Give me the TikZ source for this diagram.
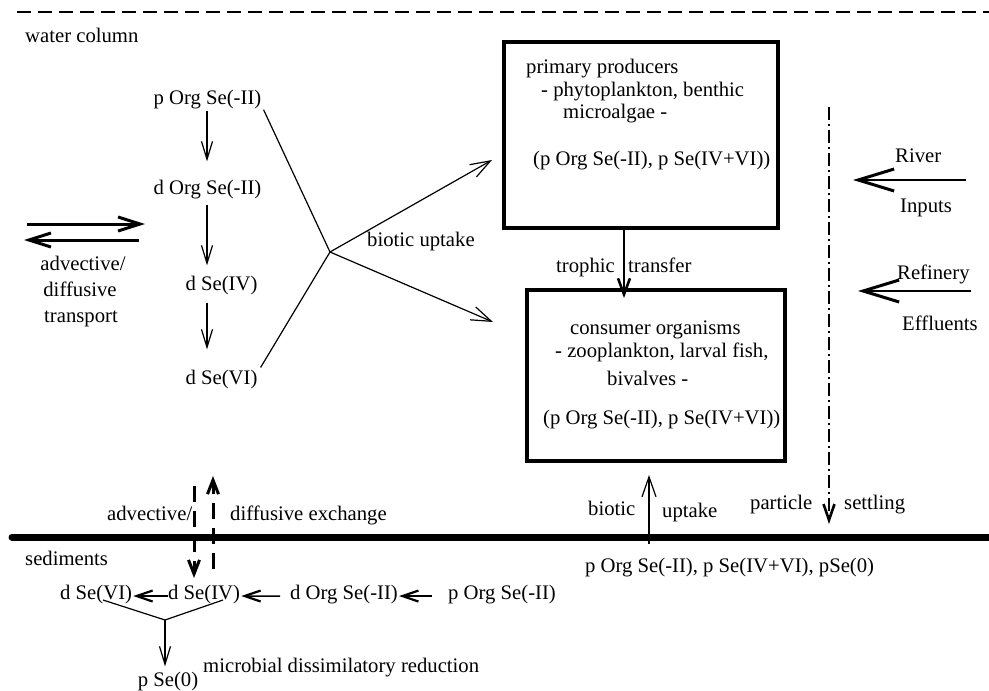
\documentclass[tikz,border=0pt]{standalone}
\usepackage{fontspec}
\setmainfont{Liberation Serif}
\usetikzlibrary{arrows.meta,calc}
\begin{document}
\begin{tikzpicture}[x=1pt,y=-1pt,
  txt/.style={inner sep=0pt, anchor=base west, font=\fontsize{20.7}{24}\selectfont},
  ctxt/.style={txt, anchor=base},
  thinarr/.style={line width=1.2pt, -{Straight Barb[length=18pt,width=11pt]}},
  uparr/.style={line width=1.2pt, -{Straight Barb[length=20pt,width=14pt]}},
  bigarr/.style={line width=2.5pt, -{Straight Barb[length=36pt,width=22pt,line width=3pt]}},
  transarr/.style={line width=3pt, -{Straight Barb[length=22pt,width=14pt]}},
  sedarr/.style={line width=1.5pt, -{Straight Barb[length=16pt,width=11pt,line width=2.2pt]}},
  troparr/.style={line width=2pt, -{Straight Barb[length=16pt,width=12pt,line width=2.6pt]}},
  exarr/.style={line width=3pt, dash pattern=on 16pt off 9pt, -{Straight Barb[length=14pt,width=11pt]}},
  box/.style={draw, line width=4pt, inner sep=0pt}
]
\useasboundingbox (0,0) rectangle (989,691);

% boundaries
\coordinate (topL) at (17,12);
\coordinate (topR) at (989,12);
\draw[line width=2.8pt, dash pattern=on 14pt off 7pt] (topL) -- (topR);
\coordinate (sedL) at (12,537);
\coordinate (sedR) at (992,537);
\draw[line width=7pt, line cap=round] (sedL) -- (sedR);

\node[txt] (wc) at (25,42) {water column};
\node[txt] (sed) at (25,565) {sediments};

% water column species
\node[ctxt] (po1) at (207.5,104) {p Org Se(-II)};
\node[ctxt] (do1) at (207.5,194) {d Org Se(-II)};
\node[ctxt] (d4w) at (221.5,290) {d Se(IV)};
\node[ctxt] (d6w) at (221.5,384) {d Se(VI)};
\coordinate (colx) at (207,0);
\draw[thinarr, shorten <=2pt, shorten >=18pt] (po1.south -| colx) -- (do1.north -| colx);
\draw[thinarr, shorten <=6pt, shorten >=10pt] (do1.south -| colx) -- (d4w.north -| colx);
\draw[thinarr, shorten <=8pt, shorten >=20pt] (d4w.south -| colx) -- (d6w.north -| colx);

% transport
\coordinate (trA) at (27,224);
\coordinate (trB) at (145,224);
\coordinate (trC) at (139,240);
\coordinate (trD) at (24,240);
\draw[transarr] (trA) -- (trB);
\draw[transarr] (trC) -- (trD);
\node[ctxt] (adv) at (83,270) {advective/};
\node[ctxt] (dif) at (80,296) {diffusive};
\node[ctxt] (tra) at (81,322) {transport};

% biotic uptake
\coordinate (j) at (330,252);
\coordinate (ppin) at (492,160);
\coordinate (coin) at (493,322);
\draw[line width=1.2pt] ([xshift=2pt,yshift=-1pt]po1.south east) -- (j);
\draw[line width=1.2pt] ([xshift=3pt,yshift=2pt]d6w.north east) -- (j);
\draw[uparr] (j) -- (ppin);
\draw[uparr] (j) -- (coin);
\node[txt] (bu) at (367,246) {biotic uptake};

% primary producers
\node[box, minimum width=274pt, minimum height=186pt] (pp) at (641,135) {};
\node[txt] (pp1) at (526,73) {primary producers};
\node[txt] (pp2) at (541,96) {- phytoplankton, benthic};
\node[txt] (pp3) at (563,118) {microalgae -};
\node[txt] (pp4) at (533,165) {(p Org Se(-II), p Se(IV+VI))};

% consumer organisms
\node[box, minimum width=258pt, minimum height=171pt] (co) at (656,375.5) {};
\node[txt] (co1) at (570,334) {consumer organisms};
\node[txt] (co2) at (555,357) {- zooplankton, larval fish,};
\node[txt] (co3) at (607,385) {bivalves -};
\node[txt] (co4) at (543,424) {(p Org Se(-II), p Se(IV+VI))};

% trophic transfer
\coordinate (tx) at (624,0);
\draw[troparr, shorten >=-10pt] (pp.south -| tx) -- (co.north -| tx);
\node[txt] (tro) at (556,272) {trophic};
\node[txt] (trf) at (628,272) {transfer};

% inputs
\coordinate (rivS) at (966,180);
\coordinate (rivE) at (853,180);
\draw[bigarr] (rivS) -- (rivE);
\node[txt] (riv) at (895,162) {River};
\node[txt] (inp) at (900,212) {Inputs};
\coordinate (refS) at (971,291);
\coordinate (refE) at (858,291);
\draw[bigarr] (refS) -- (refE);
\node[txt] (ref) at (897,279) {Refinery};
\node[txt] (eff) at (902,330) {Effluents};

% particle settling
\coordinate (psS) at (829,107);
\coordinate (psE) at (829,524);
\draw[line width=2.2pt, dash pattern=on 13pt off 4pt on 2pt off 4pt, -{Straight Barb[length=16pt,width=11pt,line width=2.6pt]}] (psS) -- (psE);
\node[txt] (par) at (750,509) {particle};
\node[txt] (set) at (844,509) {settling};

% biotic uptake from sediments
\node[txt] (pse) at (585,572) {p Org Se(-II), p Se(IV+VI), pSe(0)};
\coordinate (buS) at (649,544);
\coordinate (buE) at (649,475);
\draw[uparr] (buS) -- (buE);
\node[txt] (bi2) at (588,515) {biotic};
\node[txt] (up2) at (662,517) {uptake};

% exchange
\node[txt] (adv2) at (107,520) {advective/};
\node[txt] (dex) at (230,520) {diffusive exchange};
\coordinate (exDs) at (194,486);
\coordinate (exDe) at (194,578);
\coordinate (exUs) at (213,569);
\coordinate (exUe) at (213,476);
\draw[exarr] (exDs) -- (exDe);
\draw[exarr] (exUs) -- (exUe);

% sediment species
\node[txt] (d6s) at (60,599) {d Se(VI)};
\node[txt] (d4s) at (168,599) {d Se(IV)};
\node[txt] (dos) at (290,599) {d Org Se(-II)};
\node[txt] (pos) at (448,599) {p Org Se(-II)};
\draw[sedarr, shorten >=1pt] ([yshift=-2pt]d4s.west) -- ([yshift=-2pt]d6s.east);
\draw[sedarr, shorten <=10pt, shorten >=1pt] ([yshift=-2pt]dos.west) -- ([yshift=-2pt]d4s.east);
\draw[sedarr, shorten <=16pt, shorten >=1pt] ([yshift=-2pt]pos.west) -- ([yshift=-2pt]dos.east);

% microbial reduction
\coordinate (yl) at (103,600);
\coordinate (yr) at (223,600);
\coordinate (yj) at (165,620);
\node[ctxt] (p0) at (168,686) {p Se(0)};
\draw[line width=1.2pt] (yl) -- (yj) -- (yr);
\draw[thinarr, shorten >=5pt] (yj) -- (yj |- p0.north);
\node[txt] (mic) at (203,672) {microbial dissimilatory reduction};
\end{tikzpicture}
\end{document}
